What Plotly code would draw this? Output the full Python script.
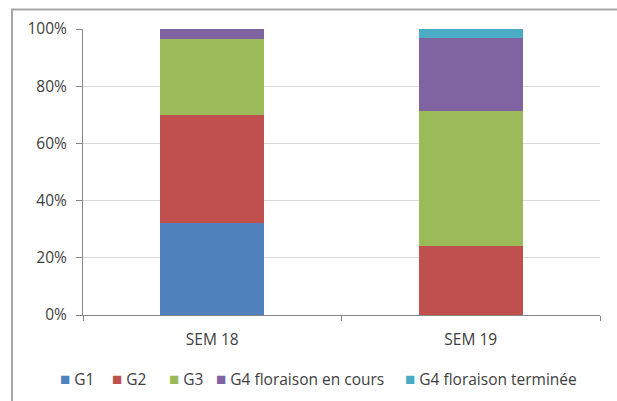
import plotly.graph_objects as go

categories = ["SEM 18", "SEM 19"]
series_names = ["G1", "G2", "G3", "G4 floraison en cours", "G4 floraison terminée"]
g1 = [0.32, 0.0]
g2 = [0.38, 0.24]
g3 = [0.265, 0.475]
g4_en_cours = [0.035, 0.255]
g4_terminee = [0.0, 0.03]
series_values = [g1, g2, g3, g4_en_cours, g4_terminee]
colors = ["#4F81BD", "#C0504D", "#9BBB59", "#8064A2", "#4BACC6"]

W, H = 617, 401
L, R, T, B = 83, 17, 29, 86
pw, ph = W - L - R, H - T - B

FONT = "'Open Sans', Lato, sans-serif"
TXT = "#404040"
font = dict(family=FONT, size=15.5, color=TXT)

fig = go.Figure()
for name, vals, c in zip(series_names, series_values, colors):
    fig.add_trace(go.Bar(x=categories, y=vals, name=name, hoverinfo="skip",
                         marker=dict(color=c, line=dict(width=0))))


def px_x(x):
    return (x - L) / pw


def px_y(y):
    return (T + ph - y) / ph


# legend drawn as text entries (pixel x of each entry's square)
legend_px = [59, 111, 168, 215, 404]
legend_py = 378
annotations = []
for name, c, px in zip(series_names, colors, legend_px):
    annotations.append(dict(
        xref="paper", yref="paper",
        x=px_x(px - 1), y=px_y(legend_py),
        xanchor="left", yanchor="middle", showarrow=False,
        text=f'<span style="color:{c};font-size:17px">■</span> {name}',
        font=font,
    ))

frame = dict(color="#a6a6a6", width=2)
shapes = [
    dict(type="line", xref="paper", yref="paper", x0=px_x(11), x1=px_x(640),
         y0=px_y(9.5), y1=px_y(9.5), line=frame, layer="above"),
    dict(type="line", xref="paper", yref="paper", x0=px_x(12), x1=px_x(12),
         y0=px_y(9), y1=px_y(440), line=frame, layer="above"),
]

fig.update_layout(
    barmode="stack",
    bargap=0.598,
    width=W, height=H,
    margin=dict(l=L, r=R, t=T, b=B, autoexpand=False),
    paper_bgcolor="white",
    plot_bgcolor="white",
    font=font,
    showlegend=False,
    hovermode=False,
    annotations=annotations,
    shapes=shapes,
    xaxis=dict(showline=True, linecolor="#868686", linewidth=1,
               ticks="outside", ticklen=5, tickcolor="#868686", tickson="boundaries",
               showgrid=False, tickfont=font, ticklabelstandoff=10),
    yaxis=dict(range=[0, 1], dtick=0.2, tickformat=".0%", showline=True,
               linecolor="#868686", linewidth=1, ticks="outside", ticklen=6,
               tickcolor="#868686", showgrid=True, gridcolor="#d9d9d9", gridwidth=1,
               zeroline=False, tickfont=font, ticklabelstandoff=6),
)
fig.write_html(
    "out.html",
    config={"displayModeBar": False, "staticPlot": True},
    post_script=("document.body.style.margin='0';"
                 "document.documentElement.style.overflow='hidden';"),
)
